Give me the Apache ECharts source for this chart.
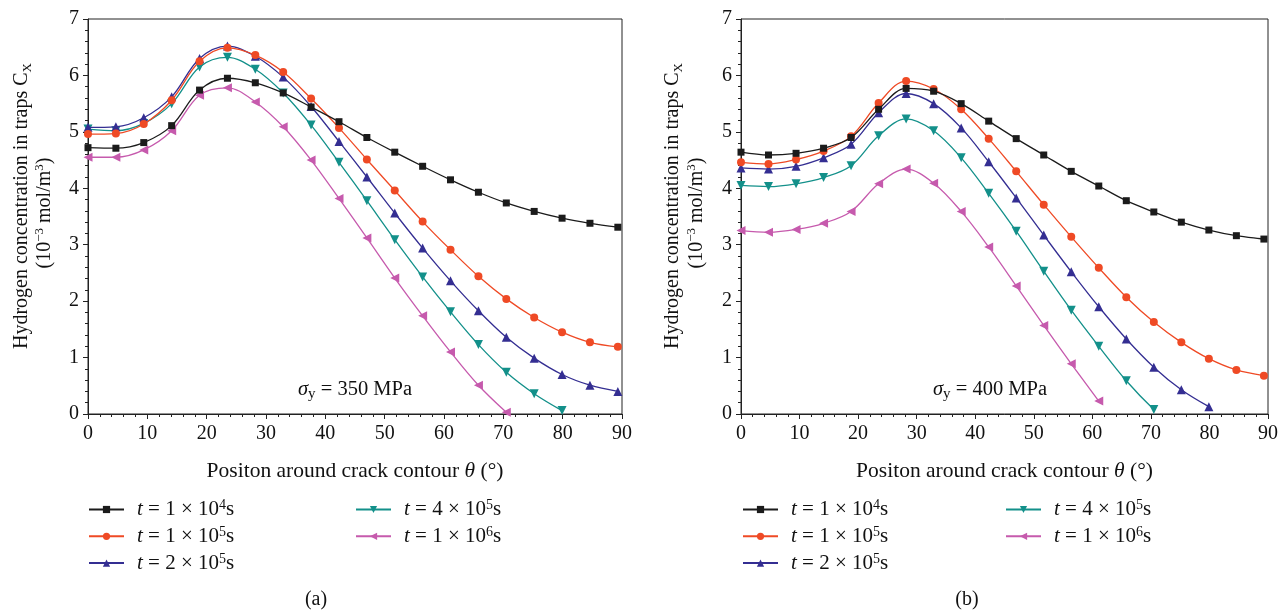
<!DOCTYPE html>
<html>
<head>
<meta charset="utf-8">
<script src="https://cdn.jsdelivr.net/npm/echarts@6/dist/echarts.min.js"></script>
<style>
  html, body { margin: 0; padding: 0; background: #fff; }
  #chart { width: 1287px; height: 614px; }
</style>
</head>
<body>
<div id="chart"></div>
<script>
// position around crack contour (deg)
var theta = [0, 4.7, 9.4, 14.1, 18.8, 23.5, 28.2, 32.9, 37.6, 42.3, 47.0, 51.7, 56.4, 61.1, 65.8, 70.5, 75.2, 79.9, 84.6, 89.3];

// time labels: t = coef x 10^exp s
var timeCoef = [1, 1, 2, 4, 1];
var timeExp = [4, 5, 5, 5, 6];
var seriesNames = ['t1e4', 't1e5', 't2e5', 't4e5', 't1e6'];

// (a) sigma_y = 350 MPa
var a_t1e4 = [4.72, 4.71, 4.81, 5.11, 5.74, 5.95, 5.87, 5.69, 5.44, 5.18, 4.90, 4.64, 4.39, 4.15, 3.93, 3.74, 3.59, 3.47, 3.38, 3.31];
var a_t1e5 = [4.96, 4.97, 5.14, 5.56, 6.25, 6.49, 6.36, 6.06, 5.59, 5.07, 4.51, 3.96, 3.41, 2.91, 2.44, 2.04, 1.71, 1.45, 1.27, 1.19];
var a_t2e5 = [5.08, 5.09, 5.25, 5.62, 6.30, 6.52, 6.34, 5.97, 5.45, 4.83, 4.20, 3.56, 2.94, 2.36, 1.83, 1.36, 0.99, 0.70, 0.51, 0.40];
var a_t4e5 = [5.05, 5.02, 5.15, 5.50, 6.15, 6.32, 6.11, 5.69, 5.12, 4.46, 3.78, 3.09, 2.43, 1.81, 1.23, 0.74, 0.36, 0.06];
var a_t1e6 = [4.55, 4.55, 4.68, 5.02, 5.65, 5.78, 5.53, 5.09, 4.50, 3.82, 3.12, 2.41, 1.74, 1.10, 0.51, 0.03];

// (b) sigma_y = 400 MPa
var b_t1e4 = [4.64, 4.59, 4.62, 4.71, 4.90, 5.40, 5.77, 5.72, 5.50, 5.19, 4.88, 4.59, 4.30, 4.04, 3.78, 3.58, 3.40, 3.26, 3.16, 3.10];
var b_t1e5 = [4.46, 4.43, 4.51, 4.66, 4.92, 5.51, 5.90, 5.76, 5.40, 4.88, 4.30, 3.71, 3.14, 2.59, 2.07, 1.63, 1.27, 0.98, 0.78, 0.68];
var b_t2e5 = [4.36, 4.34, 4.39, 4.54, 4.78, 5.34, 5.68, 5.50, 5.07, 4.47, 3.83, 3.17, 2.52, 1.90, 1.33, 0.83, 0.43, 0.13];
var b_t4e5 = [4.05, 4.03, 4.08, 4.19, 4.40, 4.93, 5.23, 5.02, 4.54, 3.91, 3.24, 2.53, 1.84, 1.20, 0.59, 0.08];
var b_t1e6 = [3.25, 3.22, 3.27, 3.38, 3.59, 4.08, 4.34, 4.09, 3.59, 2.96, 2.27, 1.57, 0.89, 0.23];

var colors = ['#1b1b1b', '#ef4a25', '#342e92', '#13908a', '#c65aad'];
var symbols = ['rect', 'circle', 'triangle', 'triangle', 'triangle'];
var symbolRot = [0, 0, 0, 180, 90];
var symbolSizes = [7, 8, 9, 9, 9];

var FONT = 'Liberation Serif';

function pairs(vals) {
  return vals.map(function (v, i) { return [theta[i], v]; });
}

function makeSeries(idx, sets) {
  return sets.map(function (vals, k) {
    return {
      name: seriesNames[k],
      type: 'line',
      xAxisIndex: idx,
      yAxisIndex: idx,
      data: pairs(vals),
      smooth: 0.35,
      symbol: symbols[k],
      symbolRotate: symbolRot[k],
      symbolSize: symbolSizes[k],
      showAllSymbol: true,
      lineStyle: { color: colors[k], width: 1.3 },
      itemStyle: { color: colors[k] },
      z: 10 - k
    };
  });
}

function xAxis(idx) {
  return {
    type: 'value', gridIndex: idx, min: 0, max: 90, interval: 10,
    axisLine: { lineStyle: { color: '#222', width: 1 } },
    axisTick: { length: 5, lineStyle: { color: '#222' } },
    minorTick: { show: true, splitNumber: 5, length: 3, lineStyle: { color: '#222' } },
    splitLine: { show: false },
    axisLabel: { color: '#111', fontFamily: FONT, fontSize: 20, margin: 10 },
    name: 'Positon around crack contour {i|θ} (°)',
    nameLocation: 'middle', nameGap: 46,
    nameTextStyle: { color: '#111', fontFamily: FONT, fontSize: 21.5, rich: { i: { fontStyle: 'italic', fontFamily: FONT, fontSize: 21.5 } } }
  };
}

function yAxis(idx) {
  return {
    type: 'value', gridIndex: idx, min: 0, max: 7, interval: 1,
    axisLine: { show: true, lineStyle: { color: '#222', width: 1 } },
    axisTick: { show: true, length: 5, lineStyle: { color: '#222' } },
    minorTick: { show: true, splitNumber: 5, length: 3, lineStyle: { color: '#222' } },
    splitLine: { show: false },
    axisLabel: { color: '#111', fontFamily: FONT, fontSize: 20, margin: 9 }
  };
}

function legendFmt(name) {
  var i = seriesNames.indexOf(name);
  return '{s|}{i|t} = ' + timeCoef[i] + ' × 10{sup|' + timeExp[i] + '}s';
}

var legendRich = {
  s: { width: 8 },
  i: { fontStyle: 'italic', fontFamily: FONT, fontSize: 21, lineHeight: 22 },
  sup: { fontFamily: FONT, fontSize: 14, lineHeight: 10, verticalAlign: 'top' }
};

function legend(left, names) {
  return {
    left: left, top: 498.5, orient: 'vertical', padding: 0,
    data: names, itemWidth: 35, itemHeight: 9, itemGap: 4.8,
    formatter: legendFmt,
    selectedMode: false,
    textStyle: { color: '#111', fontFamily: FONT, fontSize: 21, lineHeight: 22, rich: legendRich }
  };
}

function yName(x1, x2) {
  return [
    {
      type: 'text', x: x1, y: 206, rotation: Math.PI / 2,
      style: {
        text: '{a|Hydrogen concentration in traps C}{b|X}',
        align: 'center', verticalAlign: 'middle', fill: '#111',
        rich: {
          a: { fontFamily: FONT, fontSize: 20, lineHeight: 24 },
          b: { fontFamily: FONT, fontSize: 13, lineHeight: 13, verticalAlign: 'bottom' }
        }
      }
    },
    {
      type: 'text', x: x2, y: 213, rotation: Math.PI / 2,
      style: {
        text: '(10{s|−3} mol/m{s|3})',
        align: 'center', verticalAlign: 'middle', fill: '#111',
        fontFamily: FONT, fontSize: 20, lineHeight: 24,
        rich: { s: { fontFamily: FONT, fontSize: 13, lineHeight: 12, verticalAlign: 'top' } }
      }
    }
  ];
}

function sigmaText(x, val) {
  return {
    type: 'text', x: x, y: 390,
    style: {
      text: '{i|σ}{b|y} = ' + val + ' MPa',
      align: 'left', verticalAlign: 'middle', fill: '#111',
      fontFamily: FONT, fontSize: 20.5, lineHeight: 24,
      rich: {
        i: { fontStyle: 'italic', fontFamily: FONT, fontSize: 20.5, lineHeight: 24 },
        b: { fontFamily: FONT, fontSize: 15, lineHeight: 15, verticalAlign: 'bottom' }
      }
    }
  };
}

var myChart = echarts.init(document.getElementById('chart'));
var option = {
  animation: false,
  backgroundColor: '#fff',
  grid: [
    { left: 88, top: 19, width: 534, height: 395, show: true, borderColor: '#222', borderWidth: 1, backgroundColor: 'transparent' },
    { left: 741, top: 19, width: 527, height: 395, show: true, borderColor: '#222', borderWidth: 1, backgroundColor: 'transparent' }
  ],
  xAxis: [xAxis(0), xAxis(1)],
  yAxis: [yAxis(0), yAxis(1)],
  legend: [
    legend(88, seriesNames.slice(0, 3)),
    legend(355, seriesNames.slice(3)),
    legend(742, seriesNames.slice(0, 3)),
    legend(1005, seriesNames.slice(3))
  ],
  graphic: yName(22, 45).concat(yName(673, 697)).concat([
    sigmaText(298, 350),
    sigmaText(933, 400),
    { type: 'text', x: 316, y: 600, style: { text: '(a)', align: 'center', verticalAlign: 'middle', fill: '#111', fontFamily: FONT, fontSize: 20 } },
    { type: 'text', x: 967, y: 600, style: { text: '(b)', align: 'center', verticalAlign: 'middle', fill: '#111', fontFamily: FONT, fontSize: 20 } }
  ]),
  series: makeSeries(0, [a_t1e4, a_t1e5, a_t2e5, a_t4e5, a_t1e6])
    .concat(makeSeries(1, [b_t1e4, b_t1e5, b_t2e5, b_t4e5, b_t1e6]))
};
myChart.setOption(option);
</script>
</body>
</html>
